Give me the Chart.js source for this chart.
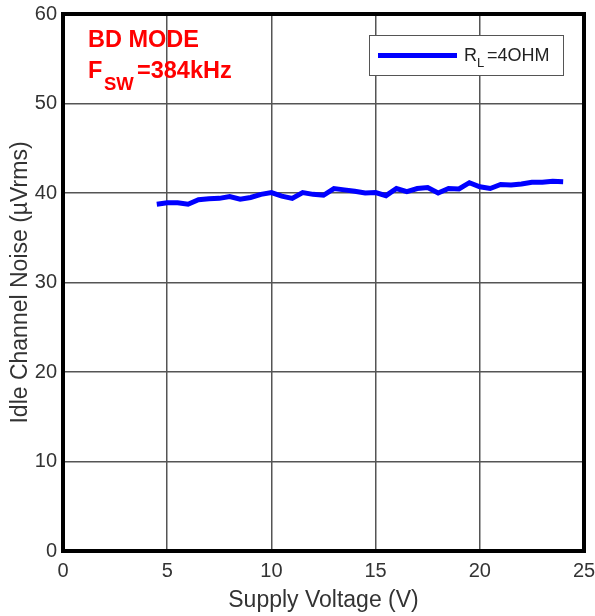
<!DOCTYPE html>
<html>
<head>
<meta charset="utf-8">
<script src="https://cdn.jsdelivr.net/npm/chart.js@4"></script>
<style>
html,body{margin:0;padding:0;background:#fff;}
#wrap{width:595px;height:616px;position:relative;}
</style>
</head>
<body>
<div id="wrap"><canvas id="c" width="595" height="616"></canvas></div>
<script>
const supplyVoltage = [4.5,5,5.5,6,6.5,7,7.5,8,8.5,9,9.5,10,10.5,11,11.5,12,12.5,13,13.5,14,14.5,15,15.5,16,16.5,17,17.5,18,18.5,19,19.5,20,20.5,21,21.5,22,22.5,23,23.5,24];
const noise4ohm = [38.75,38.9,38.9,38.75,39.25,39.35,39.4,39.6,39.3,39.5,39.85,40.05,39.65,39.4,40.05,39.85,39.75,40.5,40.35,40.2,40.0,40.05,39.7,40.5,40.15,40.5,40.6,40.0,40.5,40.45,41.15,40.7,40.5,40.95,40.9,41.0,41.2,41.2,41.3,41.25];
const xTicks = [0,5,10,15,20,25];
const yTicks = [0,10,20,30,40,50,60];
const seriesName = {main:"R", sub:"L", rest:"=4OHM"};
const noteLine1 = "BD MODE";
const noteLine2 = {main:"F", sub:"SW", rest:"=384kHz"};
const xTitle = "Supply Voltage (V)";
const yTitle = "Idle Channel Noise (µVrms)";

const FONT = "'Liberation Sans', Arial, sans-serif";

function noOverflow(s){ s.paddingLeft = 0; s.paddingRight = 0; s.paddingTop = 0; s.paddingBottom = 0; }

const decor = {
  id:'decor',
  afterDraw(chart){
    const ctx = chart.ctx, a = chart.chartArea;
    ctx.save();
    // border
    ctx.strokeStyle = '#000';
    ctx.lineWidth = 4;
    ctx.strokeRect(a.left, a.top, a.right - a.left, a.bottom - a.top);
    // annotation
    ctx.fillStyle = '#ff0000';
    ctx.textBaseline = 'alphabetic';
    ctx.textAlign = 'left';
    ctx.font = "bold 23.5px " + FONT;
    ctx.fillText(noteLine1, 88, 47);
    ctx.fillText(noteLine2.main, 88, 78);
    ctx.font = "bold 18.5px " + FONT;
    ctx.fillText(noteLine2.sub, 104, 90);
    ctx.font = "bold 23.5px " + FONT;
    ctx.fillText(noteLine2.rest, 137, 78);
    // legend
    const lx = 369, ly = 35, lw = 194, lh = 40;
    ctx.fillStyle = '#fff';
    ctx.fillRect(lx, ly, lw, lh);
    ctx.strokeStyle = '#555';
    ctx.lineWidth = 1;
    ctx.strokeRect(lx + 0.5, ly + 0.5, lw, lh);
    const ds = chart.data.datasets[0];
    ctx.strokeStyle = ds.borderColor;
    ctx.lineWidth = ds.borderWidth;
    ctx.beginPath();
    ctx.moveTo(lx + 9, ly + 20.5);
    ctx.lineTo(lx + 88, ly + 20.5);
    ctx.stroke();
    ctx.fillStyle = '#222';
    ctx.font = "18px " + FONT;
    ctx.fillText(seriesName.main, 464, 61);
    ctx.font = "13px " + FONT;
    ctx.fillText(seriesName.sub, 477, 67);
    ctx.font = "18px " + FONT;
    ctx.fillText(seriesName.rest, 487, 61);
    ctx.restore();
  }
};

new Chart(document.getElementById('c'), {
  type: 'line',
  data: {
    datasets: [{
      label: seriesName.main + seriesName.sub + seriesName.rest,
      data: supplyVoltage.map((v, i) => ({x: v, y: noise4ohm[i]})),
      borderColor: '#0000ff',
      borderWidth: 5,
      pointRadius: 0,
      tension: 0,
      fill: false
    }]
  },
  options: {
    responsive: false,
    animation: false,
    devicePixelRatio: 1,
    layout: {padding: {top: 14, right: 11, left: 0, bottom: 0}},
    plugins: {legend: {display: false}, tooltip: {enabled: false}},
    scales: {
      x: {
        type: 'linear',
        min: 0, max: 25,
        afterBuildTicks(s){ s.ticks = xTicks.map(v => ({value: v})); },
        afterFit(s){ s.height = 65; noOverflow(s); },
        grid: {color: '#555', lineWidth: 1.5, drawTicks: false},
        border: {display: false},
        ticks: {color: '#333', font: {family: FONT, size: 20}, padding: 8, maxRotation: 0},
        title: {display: true, text: xTitle, color: '#333', font: {family: FONT, size: 23}, padding: {top: 0, bottom: 2}}
      },
      y: {
        min: 0, max: 60,
        afterBuildTicks(s){ s.ticks = yTicks.map(v => ({value: v})); },
        afterFit(s){ s.width = 63; noOverflow(s); },
        grid: {color: '#555', lineWidth: 1.5, drawTicks: false},
        border: {display: false},
        ticks: {color: '#333', font: {family: FONT, size: 20}, padding: 6},
        title: {display: true, text: yTitle, color: '#333', font: {family: FONT, size: 23}, padding: {top: 7, bottom: 0}}
      }
    }
  },
  plugins: [decor]
});
</script>
</body>
</html>
